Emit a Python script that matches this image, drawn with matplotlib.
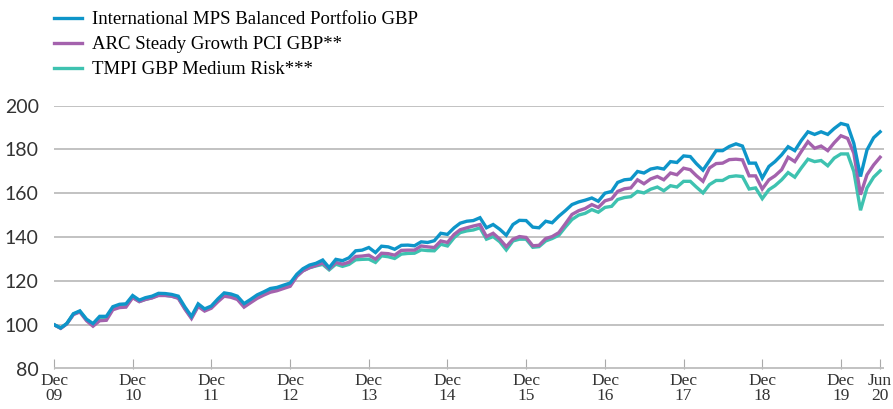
import matplotlib
matplotlib.use("Agg")
import matplotlib.pyplot as plt
import pandas as pd

months = pd.date_range("2009-12-31", periods=127, freq="ME")

mps_balanced = [
    100.0, 98.5, 100.5, 105.0, 106.3, 102.5, 100.5, 103.8, 103.8, 108.2, 109.3, 109.5,
    113.3, 111.2, 112.3, 113.0, 114.3, 114.2, 113.8, 113.0, 108.0, 103.8, 109.5, 107.2,
    108.5, 111.8, 114.5, 114.0, 113.0, 109.6, 111.5, 113.6, 115.0, 116.5, 117.0, 118.0,
    119.0, 123.0, 125.5, 127.2, 128.0, 129.5, 126.0, 129.8, 129.2, 130.5, 133.7, 134.0,
    135.2, 132.9, 135.8, 135.5, 134.4, 136.2, 136.3, 136.0, 137.8, 137.5, 138.3, 141.7,
    141.2, 144.2, 146.3, 147.2, 147.5, 148.8, 144.2, 145.7, 143.5, 140.8, 145.7, 147.6,
    147.5, 144.5, 144.2, 147.2, 146.5, 149.5, 152.0, 154.8, 156.0, 156.8, 157.8, 156.3,
    160.0, 160.8, 164.9, 166.1, 166.4, 169.9, 169.2, 171.0, 171.6, 171.0, 174.4, 174.0,
    177.0, 176.7, 173.5, 170.5, 174.8, 179.4, 179.4, 181.3, 182.5, 181.5, 173.7, 173.7,
    166.9, 172.2, 174.4, 177.5, 181.2, 179.4, 184.0, 188.0, 186.8, 188.0, 186.8, 189.5,
    191.8, 191.0, 182.7, 167.6, 179.7, 185.3, 188.0,
]

arc_steady = [
    100.0, 98.3, 100.3, 104.6, 105.8, 101.8, 99.3, 101.8, 102.0, 106.8, 107.8, 108.0,
    112.3, 110.5, 111.5, 112.2, 113.3, 113.3, 113.0, 112.0, 107.0, 102.8, 108.3, 106.2,
    107.5, 110.5, 113.0, 112.5, 111.5, 108.0, 110.0, 112.0, 113.5, 114.8, 115.5, 116.5,
    117.5, 122.0, 124.5, 126.0, 127.0, 128.2, 125.5, 128.4, 127.6, 128.5, 131.1, 131.3,
    131.7, 129.9, 132.6, 132.4, 131.7, 133.9, 134.0, 134.0, 135.9, 135.5, 135.2, 138.2,
    137.5, 141.2, 143.3, 144.2, 145.0, 145.7, 140.2, 141.7, 139.0, 135.6, 139.0, 140.2,
    139.8, 136.0, 136.2, 139.3, 140.2, 142.0, 146.0, 150.3, 152.0, 153.0, 154.8, 153.5,
    156.5, 157.4, 160.8, 162.0, 162.4, 166.1, 164.3, 166.5, 167.6, 166.1, 169.2, 168.4,
    171.4, 170.7, 168.0, 165.4, 171.5, 173.5, 173.7, 175.3, 175.5, 175.2, 167.9, 167.9,
    161.9, 166.1, 167.9, 170.7, 176.4, 174.4, 179.0, 183.5, 180.5, 181.5, 179.4, 183.0,
    186.2, 185.0, 178.2, 159.3, 168.4, 172.9, 176.4,
]

tmpi_medium = [
    100.0, 98.4, 100.4, 104.8, 106.0, 102.2, 100.0, 102.8, 103.0, 107.5, 108.6, 108.8,
    112.6, 110.6, 111.5, 112.3, 113.5, 113.4, 113.0, 112.2, 107.3, 103.2, 108.8, 106.6,
    107.9, 111.0, 113.6, 113.0, 112.0, 108.7, 110.6, 112.6, 114.0, 115.4, 116.0, 117.0,
    118.0, 122.3, 124.6, 126.0, 126.8, 127.5, 125.0, 127.6, 126.6, 127.5, 129.6, 129.8,
    129.9, 128.4, 131.4, 131.0, 130.2, 132.2, 132.5, 132.6, 134.1, 133.8, 133.7, 136.7,
    135.9, 139.7, 142.0, 142.8, 143.2, 144.2, 139.0, 140.2, 137.8, 134.1, 138.2, 139.0,
    139.0, 135.3, 135.6, 138.2, 139.3, 140.8, 144.5, 148.0, 150.0, 150.8, 152.5, 151.3,
    153.5, 154.0, 157.1, 158.0, 158.4, 160.8, 160.1, 161.8, 162.8, 161.1, 163.4, 162.8,
    165.4, 165.4, 162.8, 160.1, 163.9, 165.8, 165.8, 167.5, 167.9, 167.6, 161.9, 162.4,
    157.5, 161.6, 163.4, 166.1, 169.4, 167.3, 171.5, 175.5, 174.4, 174.9, 172.5, 176.0,
    177.9, 177.9, 169.9, 152.2, 162.4, 167.3, 170.2,
]

series_names = [
    "International MPS Balanced Portfolio GBP",
    "ARC Steady Growth PCI GBP**",
    "TMPI GBP Medium Risk***",
]
series_colors = ["#0e95c9", "#a462ad", "#3ec2b0"]

tick_dates = pd.to_datetime([
    "2009-12-31", "2010-12-31", "2011-12-31", "2012-12-31", "2013-12-31", "2014-12-31",
    "2015-12-31", "2016-12-31", "2017-12-31", "2018-12-31", "2019-12-31", "2020-06-30",
])
tick_labels = ["Dec\n09", "Dec\n10", "Dec\n11", "Dec\n12", "Dec\n13", "Dec\n14",
               "Dec\n15", "Dec\n16", "Dec\n17", "Dec\n18", "Dec\n19", "Jun\n20"]
y_ticks = [80, 100, 120, 140, 160, 180, 200]

fig = plt.figure(figsize=(8.93, 4.09), dpi=100)
ax = fig.add_axes([54 / 893, 1 - 368.5 / 409, (884 - 54) / 893, (368.5 - 105.5) / 409])

all_series = [mps_balanced, arc_steady, tmpi_medium]
lines = []
for data, name, color, z in zip(all_series, series_names, series_colors, [3, 2, 1]):
    (ln,) = ax.plot(months, data, color=color, lw=2.4, label=name, zorder=z,
                    solid_joinstyle="miter")
    lines.append(ln)

ax.set_ylim(80, 200)
ax.set_xlim(months[0], months[-1] + pd.Timedelta(days=18))
ax.set_yticks(y_ticks)
ax.yaxis.grid(True, color="#bdbdbd", lw=1.3)
ax.set_axisbelow(True)
for s in ["top", "right", "left", "bottom"]:
    ax.spines[s].set_visible(False)
ax.tick_params(axis="y", length=0, pad=11, labelsize=14, labelcolor="#333333")
ax.set_xticks(tick_dates)
ax.set_xticklabels(tick_labels, linespacing=0.92)
ax.tick_params(axis="x", direction="in", length=7, width=0.8, color="#aaaaaa",
               pad=3, labelsize=12.5, labelcolor="#333333")
for lab in ax.get_yticklabels():
    lab.set_fontfamily("Lato")
for lab in ax.get_xticklabels():
    lab.set_fontfamily("Liberation Serif")

fig.legend(handles=lines, loc="upper left", bbox_to_anchor=(54 / 893, 1 - 11 / 409),
           frameon=False, prop={"family": "Liberation Serif", "size": 13.5},
           handlelength=1.5, handletextpad=0.5, labelspacing=0.42, borderaxespad=0,
           borderpad=0)

fig.savefig("out.png", dpi=100)
